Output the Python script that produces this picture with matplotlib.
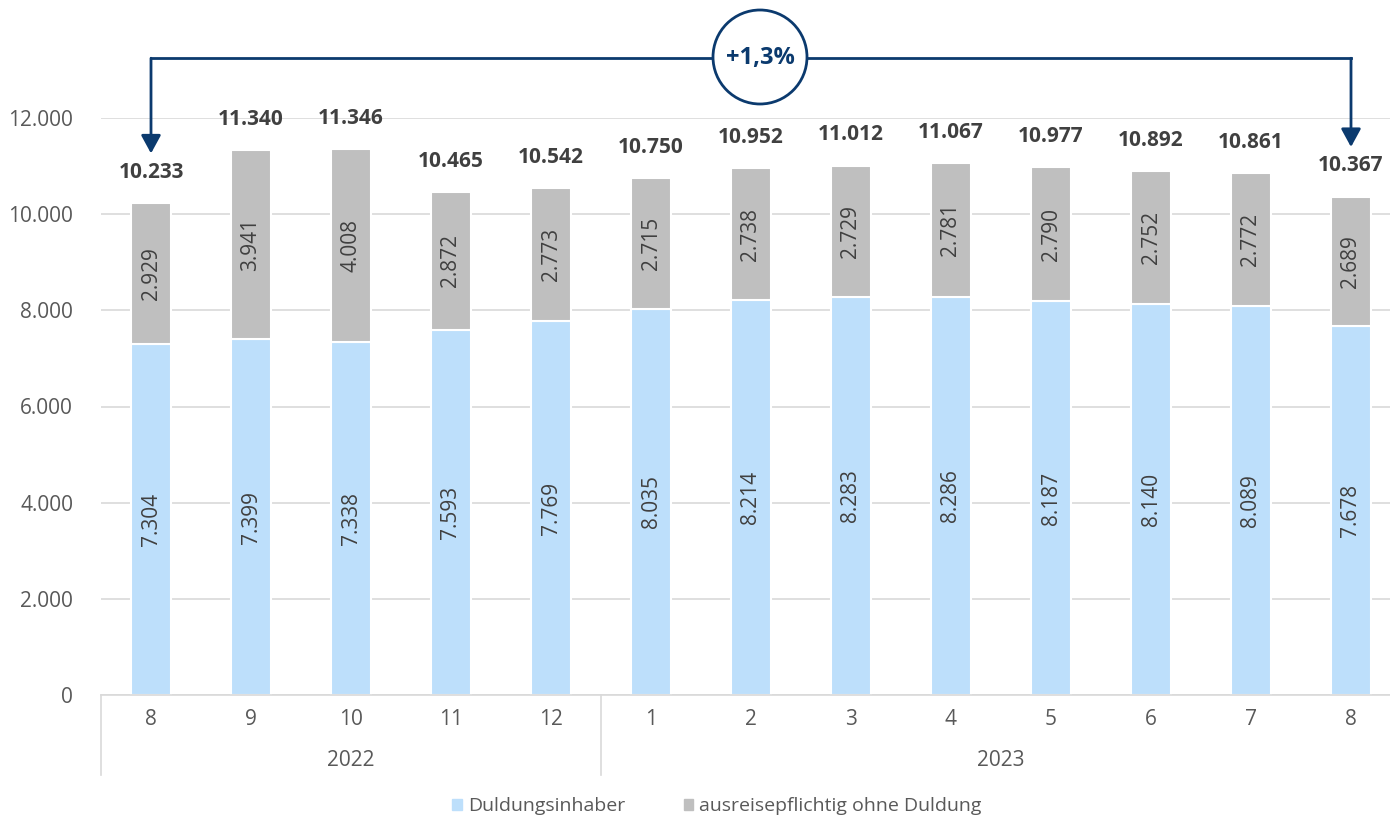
import matplotlib
matplotlib.use("Agg")
import matplotlib.pyplot as plt
from matplotlib.patches import Ellipse, Patch
import numpy as np

plt.rcParams["font.family"] = ["Open Sans", "DejaVu Sans"]

months = ["8", "9", "10", "11", "12", "1", "2", "3", "4", "5", "6", "7", "8"]
years = ["2022", "2023"]
year_spans = [(0, 4), (5, 12)]
duldung = [7304, 7399, 7338, 7593, 7769, 8035, 8214, 8283, 8286, 8187, 8140, 8089, 7678]
ohne_duldung = [2929, 3941, 4008, 2872, 2773, 2715, 2738, 2729, 2781, 2790, 2752, 2772, 2689]
change_label = "+1,3%"

BLUE = "#BDDFFB"
GREY = "#BFBFBF"
NAVY = "#0B3A6E"
TXT = "#595959"
DARK = "#404040"


def de(n):
    return f"{n:,}".replace(",", ".")


fig = plt.figure(figsize=(13.9, 8.19), dpi=100)
ax = fig.add_axes([101 / 1390, 1 - 695 / 819, 1 - 101 / 1390, (695 - 118) / 819])

x = np.arange(len(months))
d = np.array(duldung)
o = np.array(ohne_duldung)
total = d + o

ax.bar(x, d, width=0.4, color=BLUE, edgecolor="white", linewidth=1.5, zorder=2)
ax.bar(x, o, width=0.4, bottom=d, color=GREY, edgecolor="white", linewidth=1.5, zorder=2)

for i in x:
    ax.text(i, d[i] / 2, de(d[i]), rotation=90, ha="center", va="center",
            fontsize=15, color=DARK)
    ax.text(i, d[i] + o[i] / 2, de(o[i]), rotation=90, ha="center", va="center",
            fontsize=15, color=DARK)
    ax.annotate(de(total[i]), (i, total[i]), xytext=(0, 22), textcoords="offset points",
                ha="center", va="center", fontsize=15, fontweight="bold", color=DARK,
                annotation_clip=False)

ax.set_xlim(-0.5, 12.39)
ax.set_ylim(0, 12000)
ax.set_yticks(range(0, 12001, 2000))
ax.set_yticklabels([de(v) for v in range(0, 12001, 2000)], fontsize=15, color=TXT)
ax.tick_params(axis="y", length=0, pad=20)
ax.set_xticks([])
ax.yaxis.grid(True, color="#D9D9D9", linewidth=1.2, zorder=0)
ax.set_axisbelow(True)
for s in ["top", "right", "left"]:
    ax.spines[s].set_visible(False)
ax.spines["bottom"].set_color("#D9D9D9")
ax.spines["bottom"].set_linewidth(1.2)

# two-level category axis: months, then years with separators
trans = ax.get_xaxis_transform()
for i, m in enumerate(months):
    ax.text(i, -0.043, m, transform=trans, ha="center", va="center", fontsize=15, color=TXT)
for yr, (a, b) in zip(years, year_spans):
    ax.text((a + b) / 2, -0.113, yr, transform=trans, ha="center", va="center",
            fontsize=15, color=TXT)
    ax.plot([a - 0.5, a - 0.5], [0, -0.139], transform=trans, color="#D9D9D9",
            linewidth=1.2, clip_on=False)

# bracket from first to last month with change badge
y_top = 13243
first, last = 0, len(months) - 1
ax.plot([first, last], [y_top, y_top], color=NAVY, linewidth=2, clip_on=False, zorder=3)
for xi in (first, last):
    ax.annotate("", xy=(xi, total[xi] + 1030), xytext=(xi, y_top), annotation_clip=False,
                arrowprops=dict(arrowstyle="-|>,head_length=1.1,head_width=0.6",
                                color=NAVY, lw=2, shrinkA=0, shrinkB=0))
circ = Ellipse((760 / 1390, 1 - 57 / 819), 94 / 1390, 94 / 819, transform=fig.transFigure,
               facecolor="white", edgecolor=NAVY, linewidth=2, zorder=5)
fig.patches.append(circ)
fig.text(760 / 1390, 1 - 58 / 819, change_label, ha="center", va="center", fontsize=17,
         fontweight="bold", color=NAVY, zorder=6)

handles = [Patch(color=BLUE), Patch(color=GREY)]
fig.legend(handles, ["Duldungsinhaber", "ausreisepflichtig ohne Duldung"],
           loc="center", bbox_to_anchor=(717 / 1390, 1 - 806 / 819), ncol=2, frameon=False,
           fontsize=14, labelcolor=TXT, handlelength=0.5, handleheight=0.5,
           handletextpad=0.3, columnspacing=3.0)

fig.savefig("out.png", dpi=100)
